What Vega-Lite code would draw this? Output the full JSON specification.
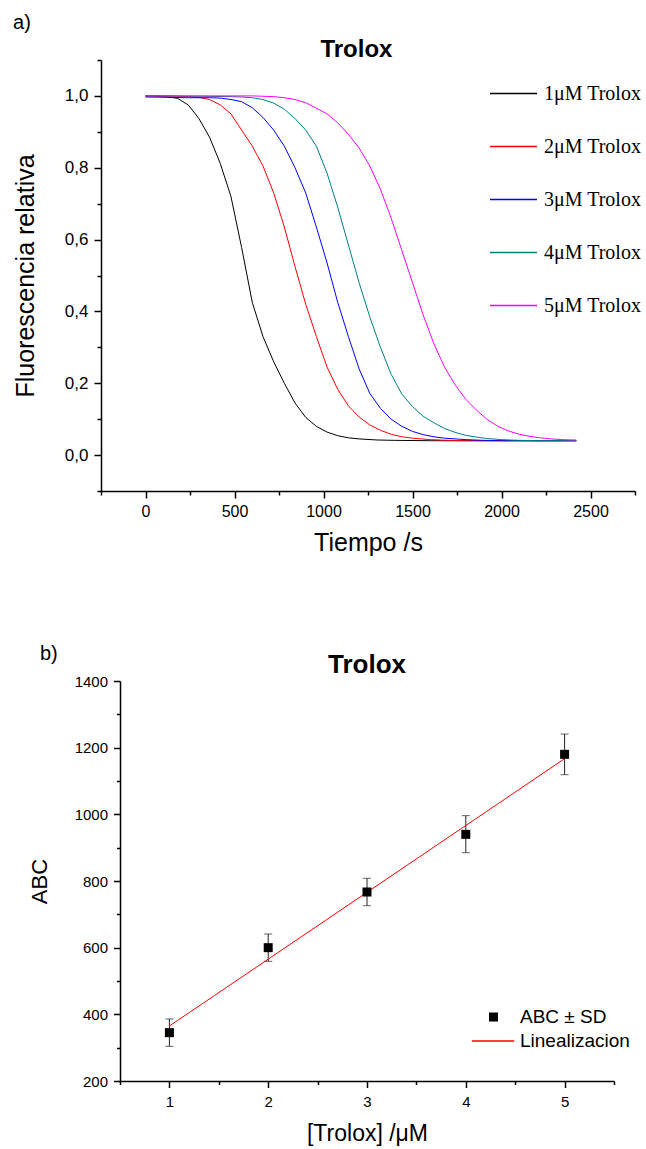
{
  "$schema": "https://vega.github.io/schema/vega-lite/v6.json",
  "background": "white",
  "padding": {"left": 13, "top": 13, "right": 0, "bottom": 0},
  "spacing": 88,
  "resolve": {
    "scale": {"color": "independent", "fill": "independent", "x": "independent", "y": "independent"},
    "legend": {"color": "independent", "fill": "independent"}
  },
  "config": {
    "view": {"stroke": null},
    "font": "Liberation Sans",
    "axis": {"domainColor": "black", "domainWidth": 1.5, "tickColor": "black", "tickWidth": 1.5, "labelColor": "black", "titleColor": "black", "labelFont": "Liberation Sans", "titleFont": "Liberation Sans", "titleFontWeight": "normal", "grid": false, "labelOverlap": false, "labelFlush": false, "tickCount": 40}
  },
  "datasets": {
    "curves": [
      {"t":0,"f":1.000,"s":"1μM Trolox"},{"t":60,"f":0.999,"s":"1μM Trolox"},{"t":120,"f":0.998,"s":"1μM Trolox"},{"t":180,"f":0.993,"s":"1μM Trolox"},{"t":240,"f":0.975,"s":"1μM Trolox"},{"t":300,"f":0.937,"s":"1μM Trolox"},{"t":360,"f":0.885,"s":"1μM Trolox"},{"t":420,"f":0.812,"s":"1μM Trolox"},{"t":480,"f":0.72,"s":"1μM Trolox"},{"t":540,"f":0.578,"s":"1μM Trolox"},{"t":600,"f":0.425,"s":"1μM Trolox"},{"t":660,"f":0.33,"s":"1μM Trolox"},{"t":720,"f":0.26,"s":"1μM Trolox"},{"t":780,"f":0.2,"s":"1μM Trolox"},{"t":840,"f":0.145,"s":"1μM Trolox"},{"t":900,"f":0.105,"s":"1μM Trolox"},{"t":960,"f":0.08,"s":"1μM Trolox"},{"t":1020,"f":0.064,"s":"1μM Trolox"},{"t":1080,"f":0.054,"s":"1μM Trolox"},{"t":1140,"f":0.048,"s":"1μM Trolox"},{"t":1200,"f":0.045,"s":"1μM Trolox"},{"t":1300,"f":0.042,"s":"1μM Trolox"},{"t":1400,"f":0.041,"s":"1μM Trolox"},{"t":1600,"f":0.04,"s":"1μM Trolox"},{"t":2000,"f":0.04,"s":"1μM Trolox"},{"t":2420,"f":0.04,"s":"1μM Trolox"},
      {"t":0,"f":1.0,"s":"2μM Trolox"},{"t":120,"f":1.0,"s":"2μM Trolox"},{"t":240,"f":0.998,"s":"2μM Trolox"},{"t":300,"f":0.996,"s":"2μM Trolox"},{"t":360,"f":0.99,"s":"2μM Trolox"},{"t":420,"f":0.975,"s":"2μM Trolox"},{"t":480,"f":0.95,"s":"2μM Trolox"},{"t":540,"f":0.905,"s":"2μM Trolox"},{"t":600,"f":0.86,"s":"2μM Trolox"},{"t":660,"f":0.805,"s":"2μM Trolox"},{"t":720,"f":0.73,"s":"2μM Trolox"},{"t":780,"f":0.635,"s":"2μM Trolox"},{"t":840,"f":0.525,"s":"2μM Trolox"},{"t":900,"f":0.42,"s":"2μM Trolox"},{"t":960,"f":0.33,"s":"2μM Trolox"},{"t":1020,"f":0.245,"s":"2μM Trolox"},{"t":1080,"f":0.183,"s":"2μM Trolox"},{"t":1140,"f":0.137,"s":"2μM Trolox"},{"t":1200,"f":0.106,"s":"2μM Trolox"},{"t":1260,"f":0.084,"s":"2μM Trolox"},{"t":1320,"f":0.069,"s":"2μM Trolox"},{"t":1380,"f":0.058,"s":"2μM Trolox"},{"t":1440,"f":0.051,"s":"2μM Trolox"},{"t":1500,"f":0.047,"s":"2μM Trolox"},{"t":1600,"f":0.043,"s":"2μM Trolox"},{"t":1700,"f":0.041,"s":"2μM Trolox"},{"t":1800,"f":0.04,"s":"2μM Trolox"},{"t":2420,"f":0.04,"s":"2μM Trolox"},
      {"t":0,"f":0.997,"s":"3μM Trolox"},{"t":120,"f":0.996,"s":"3μM Trolox"},{"t":240,"f":0.995,"s":"3μM Trolox"},{"t":360,"f":0.995,"s":"3μM Trolox"},{"t":420,"f":0.994,"s":"3μM Trolox"},{"t":480,"f":0.99,"s":"3μM Trolox"},{"t":540,"f":0.984,"s":"3μM Trolox"},{"t":600,"f":0.967,"s":"3μM Trolox"},{"t":660,"f":0.94,"s":"3μM Trolox"},{"t":720,"f":0.905,"s":"3μM Trolox"},{"t":780,"f":0.86,"s":"3μM Trolox"},{"t":840,"f":0.8,"s":"3μM Trolox"},{"t":900,"f":0.73,"s":"3μM Trolox"},{"t":960,"f":0.635,"s":"3μM Trolox"},{"t":1020,"f":0.535,"s":"3μM Trolox"},{"t":1080,"f":0.425,"s":"3μM Trolox"},{"t":1140,"f":0.33,"s":"3μM Trolox"},{"t":1200,"f":0.24,"s":"3μM Trolox"},{"t":1260,"f":0.172,"s":"3μM Trolox"},{"t":1320,"f":0.13,"s":"3μM Trolox"},{"t":1380,"f":0.1,"s":"3μM Trolox"},{"t":1440,"f":0.08,"s":"3μM Trolox"},{"t":1500,"f":0.066,"s":"3μM Trolox"},{"t":1560,"f":0.057,"s":"3μM Trolox"},{"t":1620,"f":0.051,"s":"3μM Trolox"},{"t":1680,"f":0.047,"s":"3μM Trolox"},{"t":1800,"f":0.043,"s":"3μM Trolox"},{"t":1900,"f":0.041,"s":"3μM Trolox"},{"t":2000,"f":0.04,"s":"3μM Trolox"},{"t":2420,"f":0.04,"s":"3μM Trolox"},
      {"t":0,"f":1.0,"s":"4μM Trolox"},{"t":300,"f":0.999,"s":"4μM Trolox"},{"t":480,"f":0.998,"s":"4μM Trolox"},{"t":540,"f":0.997,"s":"4μM Trolox"},{"t":600,"f":0.995,"s":"4μM Trolox"},{"t":660,"f":0.99,"s":"4μM Trolox"},{"t":720,"f":0.98,"s":"4μM Trolox"},{"t":780,"f":0.963,"s":"4μM Trolox"},{"t":840,"f":0.937,"s":"4μM Trolox"},{"t":900,"f":0.905,"s":"4μM Trolox"},{"t":960,"f":0.86,"s":"4μM Trolox"},{"t":1020,"f":0.785,"s":"4μM Trolox"},{"t":1080,"f":0.69,"s":"4μM Trolox"},{"t":1140,"f":0.585,"s":"4μM Trolox"},{"t":1200,"f":0.48,"s":"4μM Trolox"},{"t":1260,"f":0.385,"s":"4μM Trolox"},{"t":1320,"f":0.3,"s":"4μM Trolox"},{"t":1380,"f":0.225,"s":"4μM Trolox"},{"t":1440,"f":0.17,"s":"4μM Trolox"},{"t":1500,"f":0.135,"s":"4μM Trolox"},{"t":1560,"f":0.108,"s":"4μM Trolox"},{"t":1620,"f":0.09,"s":"4μM Trolox"},{"t":1680,"f":0.074,"s":"4μM Trolox"},{"t":1740,"f":0.063,"s":"4μM Trolox"},{"t":1800,"f":0.055,"s":"4μM Trolox"},{"t":1860,"f":0.05,"s":"4μM Trolox"},{"t":1920,"f":0.046,"s":"4μM Trolox"},{"t":2000,"f":0.043,"s":"4μM Trolox"},{"t":2100,"f":0.041,"s":"4μM Trolox"},{"t":2200,"f":0.04,"s":"4μM Trolox"},{"t":2420,"f":0.04,"s":"4μM Trolox"},
      {"t":0,"f":1.0,"s":"5μM Trolox"},{"t":600,"f":1.0,"s":"5μM Trolox"},{"t":660,"f":0.999,"s":"5μM Trolox"},{"t":720,"f":0.998,"s":"5μM Trolox"},{"t":780,"f":0.995,"s":"5μM Trolox"},{"t":840,"f":0.99,"s":"5μM Trolox"},{"t":900,"f":0.981,"s":"5μM Trolox"},{"t":960,"f":0.966,"s":"5μM Trolox"},{"t":1020,"f":0.95,"s":"5μM Trolox"},{"t":1080,"f":0.925,"s":"5μM Trolox"},{"t":1140,"f":0.893,"s":"5μM Trolox"},{"t":1200,"f":0.855,"s":"5μM Trolox"},{"t":1260,"f":0.805,"s":"5μM Trolox"},{"t":1320,"f":0.74,"s":"5μM Trolox"},{"t":1380,"f":0.66,"s":"5μM Trolox"},{"t":1440,"f":0.57,"s":"5μM Trolox"},{"t":1500,"f":0.48,"s":"5μM Trolox"},{"t":1560,"f":0.39,"s":"5μM Trolox"},{"t":1620,"f":0.31,"s":"5μM Trolox"},{"t":1680,"f":0.245,"s":"5μM Trolox"},{"t":1740,"f":0.195,"s":"5μM Trolox"},{"t":1800,"f":0.155,"s":"5μM Trolox"},{"t":1860,"f":0.125,"s":"5μM Trolox"},{"t":1920,"f":0.099,"s":"5μM Trolox"},{"t":1980,"f":0.08,"s":"5μM Trolox"},{"t":2040,"f":0.067,"s":"5μM Trolox"},{"t":2100,"f":0.058,"s":"5μM Trolox"},{"t":2160,"f":0.052,"s":"5μM Trolox"},{"t":2220,"f":0.048,"s":"5μM Trolox"},{"t":2280,"f":0.045,"s":"5μM Trolox"},{"t":2340,"f":0.043,"s":"5μM Trolox"},{"t":2420,"f":0.042,"s":"5μM Trolox"}
    ],
    "abc": [
      {"x":1,"abc":345,"lo":304,"hi":386,"s":"ABC ± SD"},
      {"x":2,"abc":600,"lo":559,"hi":641,"s":"ABC ± SD"},
      {"x":3,"abc":767,"lo":726,"hi":808,"s":"ABC ± SD"},
      {"x":4,"abc":940,"lo":885,"hi":996,"s":"ABC ± SD"},
      {"x":5,"abc":1180,"lo":1119,"hi":1241,"s":"ABC ± SD"}
    ],
    "fit": [
      {"x":1,"abc":365,"s":"Linealizacion"},
      {"x":5,"abc":1167,"s":"Linealizacion"}
    ]
  },
  "vconcat": [
    {
      "width": 534,
      "height": 431,
      "layer": [
        {
          "data": {"name": "curves"},
          "mark": {"type": "line", "strokeWidth": 1},
          "encoding": {
            "x": {"field": "t", "type": "quantitative",
              "scale": {"domain": [-250, 2750], "nice": false, "zero": false},
              "axis": {"title": "Tiempo /s", "format": "d", "tickCount": 40, "values": [-250,0,250,500,750,1000,1250,1500,1750,2000,2250,2500,2750],
                "tickSize": {"condition": {"test": "datum.value % 500 === 0", "value": 7}, "value": 4},
                "labelExpr": "datum.value % 500 === 0 ? datum.label : ''",
                "labelFontSize": 16, "labelPadding": 5, "titleFontSize": 25, "titlePadding": 11}},
            "y": {"field": "f", "type": "quantitative",
              "scale": {"domain": [-0.1, 1.1], "nice": false, "zero": false},
              "axis": {"title": "Fluorescencia relativa", "tickCount": 40, "values": [-0.1,0,0.1,0.2,0.3,0.4,0.5,0.6,0.7,0.8,0.9,1,1.1],
                "tickSize": {"condition": {"test": "(datum.value*5) % 1 === 0", "value": 7}, "value": 4},
                "labelExpr": "(datum.value*5) % 1 !== 0 ? '' : datum.value === 0 ? '0,0' : datum.value === 1 ? '1,0' : replace(toString(datum.value), '.', ',')",
                "labelFontSize": 17, "labelPadding": 6, "titleFontSize": 25, "titlePadding": 26}},
            "color": {"field": "s", "type": "nominal",
              "scale": {"domain": ["1μM Trolox","2μM Trolox","3μM Trolox","4μM Trolox","5μM Trolox"], "range": ["#000000","#ff0000","#0000ff","#008080","#ff00ff"]},
              "legend": {"title": null, "orient": "none", "legendX": 388, "legendY": 9, "padding": 0, "symbolType": "stroke", "symbolSize": 2209, "symbolStrokeWidth": 1.5, "labelFont": "Liberation Serif", "labelFontSize": 20, "labelColor": "black", "labelOffset": 6, "rowPadding": 18}}
          }
        },
        {
          "data": {"values": [{}]},
          "mark": {"type": "text", "text": "a)", "align": "left", "baseline": "middle", "fontSize": 20, "font": "Liberation Sans", "color": "black"},
          "encoding": {
            "x": {"datum": -744, "type": "quantitative"},
            "y": {"datum": 1.2017, "type": "quantitative"}
          }
        },
        {
          "data": {"values": [{}]},
          "mark": {"type": "text", "text": "Trolox", "align": "center", "baseline": "alphabetic", "fontSize": 24, "fontWeight": "bold", "font": "Liberation Sans", "color": "black"},
          "encoding": {
            "x": {"datum": 1185, "type": "quantitative"},
            "y": {"datum": 1.1075, "type": "quantitative"}
          }
        }
      ]
    },
    {
      "width": 513,
      "height": 400,
      "layer": [
        {
          "data": {"name": "abc"},
          "mark": {"type": "rule", "color": "#222222", "strokeWidth": 1},
          "encoding": {
            "x": {"field": "x", "type": "quantitative"},
            "y": {"field": "lo", "type": "quantitative"},
            "y2": {"field": "hi"}
          }
        },
        {
          "data": {"name": "abc"},
          "mark": {"type": "tick", "orient": "horizontal", "size": 8, "thickness": 1, "color": "#222222"},
          "encoding": {
            "x": {"field": "x", "type": "quantitative"},
            "y": {"field": "lo", "type": "quantitative"}
          }
        },
        {
          "data": {"name": "abc"},
          "mark": {"type": "tick", "orient": "horizontal", "size": 8, "thickness": 1, "color": "#222222"},
          "encoding": {
            "x": {"field": "x", "type": "quantitative"},
            "y": {"field": "hi", "type": "quantitative"}
          }
        },
        {
          "data": {"name": "fit"},
          "mark": {"type": "line", "strokeWidth": 1},
          "encoding": {
            "x": {"field": "x", "type": "quantitative"},
            "y": {"field": "abc", "type": "quantitative"},
            "color": {"field": "s", "type": "nominal", "scale": {"domain": ["Linealizacion"], "range": ["#ff0000"]},
              "legend": {"title": null, "orient": "none", "legendX": 370, "legendY": 338, "padding": 0, "symbolType": "stroke", "symbolSize": 1800, "symbolStrokeWidth": 1.5, "labelFontSize": 19, "labelColor": "black", "labelOffset": 5}}
          }
        },
        {
          "data": {"name": "abc"},
          "mark": {"type": "point", "filled": true, "opacity": 1, "size": 81, "shape": "square"},
          "encoding": {
            "x": {"field": "x", "type": "quantitative",
              "scale": {"domain": [0.5, 5.5], "range": [19, 513], "nice": false, "zero": false},
              "axis": {"title": "[Trolox] /μM", "tickCount": 40, "values": [0.5,1,1.5,2,2.5,3,3.5,4,4.5,5,5.5],
                "tickSize": {"condition": {"test": "datum.value % 1 === 0", "value": 6.5}, "value": 3.5},
                "labelExpr": "datum.value % 1 === 0 ? toString(datum.value) : ''",
                "labelFontSize": 15, "labelPadding": 7, "titleFontSize": 23, "titlePadding": 13}},
            "y": {"field": "abc", "type": "quantitative",
              "scale": {"domain": [200, 1400], "nice": false, "zero": false},
              "axis": {"title": "ABC", "format": "d", "tickCount": 40, "offset": -19, "values": [200,300,400,500,600,700,800,900,1000,1100,1200,1300,1400],
                "tickSize": {"condition": {"test": "datum.value % 200 === 0", "value": 6.5}, "value": 3.5},
                "labelExpr": "datum.value % 200 === 0 ? datum.label : ''",
                "labelFontSize": 15, "labelPadding": 6, "titleFontSize": 22, "titlePadding": 23}},
            "fill": {"field": "s", "type": "nominal", "scale": {"domain": ["ABC ± SD"], "range": ["#000000"]},
              "legend": {"title": null, "orient": "none", "legendX": 383, "legendY": 326.5, "padding": 0, "symbolType": "square", "symbolSize": 81, "symbolStrokeWidth": 0, "labelFontSize": 19, "labelColor": "black", "labelOffset": 17}}
          }
        },
        {
          "data": {"values": [{}]},
          "mark": {"type": "text", "text": "b)", "align": "left", "baseline": "middle", "fontSize": 20, "font": "Liberation Sans", "color": "black"},
          "encoding": {
            "x": {"datum": -0.31, "type": "quantitative"},
            "y": {"datum": 1482, "type": "quantitative"}
          }
        },
        {
          "data": {"values": [{}]},
          "mark": {"type": "text", "text": "Trolox", "align": "center", "baseline": "alphabetic", "fontSize": 26, "fontWeight": "bold", "font": "Liberation Sans", "color": "black"},
          "encoding": {
            "x": {"datum": 3.0, "type": "quantitative"},
            "y": {"datum": 1425, "type": "quantitative"}
          }
        }
      ]
    }
  ]
}
